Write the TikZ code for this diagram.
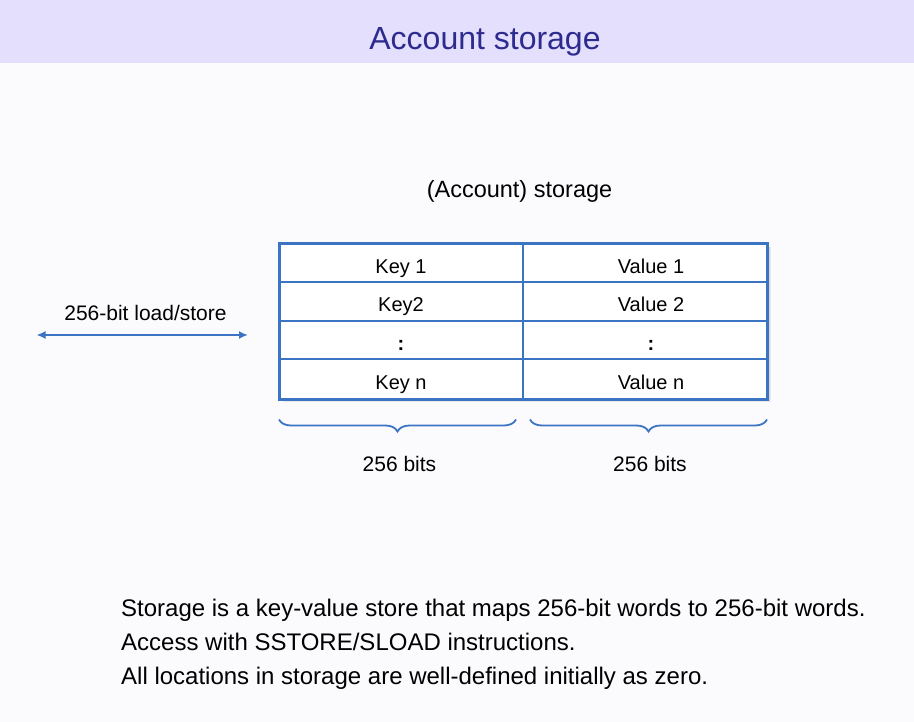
\documentclass[tikz,border=0pt]{standalone}
\usepackage{fontspec}
\setmainfont{Liberation Sans}
\usetikzlibrary{arrows.meta,decorations.pathreplacing}
\definecolor{bandc}{HTML}{E3DFFC}
\definecolor{bgc}{HTML}{FBFBFE}
\definecolor{titlec}{HTML}{2E2B8F}
\definecolor{lineb}{HTML}{3B74C2}
\tikzset{
  celltxt/.style={anchor=base,inner sep=0pt,font=\fontsize{20}{24}\selectfont},
  lbl/.style={anchor=base,inner sep=0pt,font=\fontsize{21}{25}\selectfont},
  body/.style={anchor=base west,inner sep=0pt,font=\fontsize{24}{28}\selectfont},
  grid/.style={draw=lineb,line width=2pt},
  shadowlayer/.style={fill=black,opacity=0.07},
  bracestyle/.style={draw=lineb,line width=1.8pt,decorate,decoration={brace,mirror,amplitude=12pt}},
  arr/.style={draw=lineb,line width=1.8pt,{Latex[length=9pt,width=8pt]}-{Latex[length=9pt,width=8pt]}}
}
\begin{document}
\begin{tikzpicture}[x=1pt,y=-1pt]
\useasboundingbox (0,0) rectangle (914,722);
\fill[bgc] (0,0) rectangle (914,722);
\fill[bandc] (0,0) rectangle (914,63);
\node[anchor=base,inner sep=0pt,text=titlec,font=\fontsize{32}{36}\selectfont] (title) at (485,50) {Account storage};

\node[lbl,font=\fontsize{23.5}{28}\selectfont] (cap) at (519.5,198) {(Account) storage};

% soft shadow
\foreach \d in {1,2,3,4,5}{
  \fill[shadowlayer] (279+\d*0.6+1,243.5+\d*0.6+1) rectangle (766+\d*0.9,397.5+\d*0.9);
}
% table
\node[grid,fill=white,inner sep=0pt,minimum width=487pt,minimum height=154pt,anchor=north west] (tbl) at (279,243.5) {};
\coordinate (r1l) at (279,282.4); \coordinate (r1r) at (766,282.4);
\coordinate (r2l) at (279,321.3); \coordinate (r2r) at (766,321.3);
\coordinate (r3l) at (279,359.5); \coordinate (r3r) at (766,359.5);
\coordinate (ct) at (523,243.5); \coordinate (cb) at (523,397.5);
\draw[grid] (r1l) -- (r1r);
\draw[grid] (r2l) -- (r2r);
\draw[grid] (r3l) -- (r3r);
\draw[grid] (ct) -- (cb);
\draw[grid,line width=2.4pt] (tbl.north west) rectangle (tbl.south east);

\node[celltxt] (k1) at (401,274) {Key 1};
\node[celltxt] (k2) at (401,312) {Key2};
\node[celltxt] (k3) at (401,350.5) {\bfseries :};
\node[celltxt] (k4) at (401,389) {Key n};
\node[celltxt] (v1) at (651,274) {Value 1};
\node[celltxt] (v2) at (651,312) {Value 2};
\node[celltxt] (v3) at (651,350.5) {\bfseries :};
\node[celltxt] (v4) at (651,389) {Value n};

% arrow
\node[lbl] (io) at (145.5,321) {256-bit load/store};
\coordinate (al) at (36.5,335);
\coordinate (ar) at (248,335);
\draw[arr] (al) -- (ar);

% braces
\coordinate (b1a) at (279,419.5); \coordinate (b1b) at (516,419.5);
\coordinate (b2a) at (530,419.5); \coordinate (b2b) at (767,419.5);
\draw[bracestyle] (b1a) -- (b1b);
\draw[bracestyle] (b2a) -- (b2b);
\node[lbl] (bits1) at (399.5,471.5) {256 bits};
\node[lbl] (bits2) at (650,471.5) {256 bits};

% bottom text
\node[body] (t1) at (121,616) {Storage is a key-value store that maps 256-bit words to 256-bit words.};
\node[body] (t2) at (121,650) {Access with SSTORE/SLOAD instructions.};
\node[body] (t3) at (121,684) {All locations in storage are well-defined initially as zero.};
\end{tikzpicture}
\end{document}
